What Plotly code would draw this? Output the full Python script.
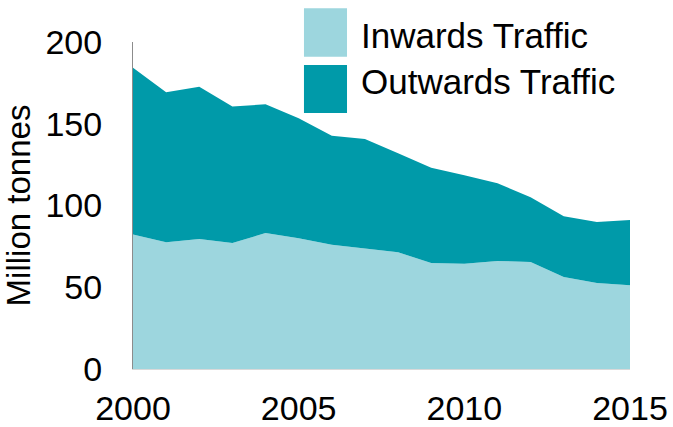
import plotly.graph_objects as go

years = list(range(2000, 2016))
inwards = [82.2, 77.5, 79.5, 77.0, 83.2, 79.9, 76.0, 73.7, 71.4, 64.8, 64.4, 66.1, 65.4, 56.3, 52.6, 51.2]
outwards = [102.1, 91.8, 93.1, 83.6, 78.7, 73.5, 66.7, 66.9, 60.5, 58.3, 54.1, 47.5, 39.6, 37.1, 37.3, 39.9]
series_names = ["Inwards Traffic", "Outwards Traffic"]
colors = ["#9dd6de", "#009aa9"]
y_ticks = [0, 50, 100, 150, 200]
x_ticks = [2000, 2005, 2010, 2015]

FONT = "Liberation Sans, Arial, sans-serif"

fig = go.Figure()
for name, vals, col in zip(series_names, [inwards, outwards], colors):
    fig.add_trace(go.Scatter(
        x=years, y=vals, name=name, mode="lines", stackgroup="one",
        line=dict(width=0, color=col), fillcolor=col, showlegend=False,
    ))

# custom legend
leg = [(0.344, 0.4306, 0.955, 1.103), (0.344, 0.4306, 0.783, 0.9297)]
txt_y = [1.0214, 0.8807]
for (x0, x1, y0, y1), col, name, ty in zip(leg, colors, series_names, txt_y):
    fig.add_shape(type="rect", xref="paper", yref="paper", x0=x0, x1=x1, y0=y0, y1=y1,
                  fillcolor=col, line=dict(width=0))
    fig.add_annotation(xref="paper", yref="paper", x=0.454, y=ty, text=name,
                       showarrow=False, xanchor="left", yanchor="middle",
                       font=dict(family=FONT, size=35, color="black"))

fig.update_layout(
    width=673, height=427,
    margin=dict(l=133, r=43, t=42, b=58),
    paper_bgcolor="white", plot_bgcolor="white",
    font=dict(family=FONT, size=34, color="black"),
)
fig.update_xaxes(range=[2000, 2015], tickvals=x_ticks, ticktext=[str(v) for v in x_ticks],
                 showgrid=False, zeroline=False, showline=True, linecolor="#d9d9d9", linewidth=1,
                 ticks="", ticklabelstandoff=9, tickfont=dict(size=34), automargin=False)
fig.update_yaxes(range=[0, 200], tickvals=y_ticks, showgrid=False, zeroline=False,
                 showline=True, linecolor="#8c8c8c", linewidth=1, ticks="",
                 ticklabelstandoff=23, tickfont=dict(size=34), automargin=False,
                 title=dict(text="Million tonnes", font=dict(size=33), standoff=19))

fig.write_html("out.html", config={"displayModeBar": False},
               post_script="document.body.style.margin='0px';")
